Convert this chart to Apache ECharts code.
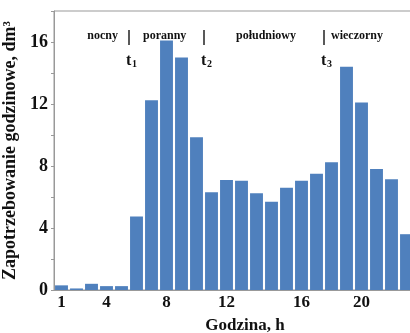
<!DOCTYPE html>
<html>
<head>
<meta charset="utf-8">
<script src="https://cdn.jsdelivr.net/npm/echarts@6/dist/echarts.min.js"></script>
<style>
  html, body { margin: 0; padding: 0; background: #fff; }
  #chart { width: 410px; height: 333px; }
</style>
</head>
<body>
<div id="chart"></div>
<script>
var hours = ['1','2','3','4','5','6','7','8','9','10','11','12','13','14','15','16','17','18','19','20','21','22','23','24'];
// labels as they sit under the bars in the source figure
var tickLabels = ['1','','','4','','','','8','','','','12','','','','','16','','','','20','','',''];
var demand = [0.3, 0.1, 0.4, 0.25, 0.25, 4.75, 12.25, 16.1, 15.0, 9.85, 6.3, 7.1, 7.05, 6.25, 5.7, 6.6, 7.05, 7.5, 8.25, 14.4, 12.1, 7.8, 7.15, 3.6];
var periods = ['nocny', 'poranny', 'południowy', 'wieczorny'];
var boundaryAfter = [5, 10, 18];   // t1, t2, t3 fall after these hours
var boundaryNames = ['1', '2', '3'];

var serif = '"Liberation Serif", "Times New Roman", serif';
var chart = echarts.init(document.getElementById('chart'));
var option;

option = {
  animation: false,
  grid: {
    left: 54,
    top: 11,
    width: 360,
    height: 279,
    outerBoundsMode: 'none',
    containLabel: false,
    show: true,
    borderColor: '#999',
    borderWidth: 1
  },
  xAxis: {
    type: 'category',
    data: hours,
    name: 'Godzina, h',
    nameLocation: 'middle',
    nameGap: 27,
    nameTextStyle: {
      fontFamily: serif, fontWeight: 'bold', fontSize: 17, color: '#111',
      padding: [0, 0, 0, 22]
    },
    axisLine: { lineStyle: { color: '#999' } },
    axisTick: { show: false },
    axisLabel: {
      interval: 0,
      margin: 4,
      fontFamily: serif, fontWeight: 'bold', fontSize: 17, color: '#111',
      formatter: function (v, i) { return tickLabels[i]; }
    }
  },
  yAxis: {
    type: 'value',
    min: 0,
    max: 18,
    interval: 2,
    name: 'Zapotrzebowanie godzinowe, dm³',
    nameLocation: 'middle',
    nameGap: 27,
    nameTextStyle: {
      fontFamily: serif, fontWeight: 'bold', fontSize: 18, color: '#111'
    },
    axisLine: { show: true, lineStyle: { color: '#999' } },
    axisTick: { show: true, length: 3, lineStyle: { color: '#999' } },
    splitLine: { show: false },
    axisLabel: {
      margin: 6,
      fontFamily: serif, fontWeight: 'bold', fontSize: 18, color: '#111',
      formatter: function (v) { return (v % 4 === 0 && v < 18) ? String(v) : ''; }
    }
  },
  series: [
    {
      type: 'bar',
      data: demand,
      barCategoryGap: '14%',
      itemStyle: { color: '#4f80bd' }
    }
  ]
};

option && chart.setOption(option);

// period annotations placed at the category boundaries
var xs = boundaryAfter.map(function (h) {
  var a = chart.convertToPixel({ xAxisIndex: 0 }, h - 1);
  var b = chart.convertToPixel({ xAxisIndex: 0 }, h);
  return (a + b) / 2;
});
var textFont = 'bold 12px ' + serif;
var els = [];
xs.forEach(function (x, i) {
  els.push({
    type: 'line',
    shape: { x1: x, y1: 30, x2: x, y2: 45 },
    style: { stroke: '#222', lineWidth: 1.5 }
  });
  els.push({
    type: 'text', x: x - 3, y: 61,
    style: { text: 't', font: 'bold 16px ' + serif, fill: '#111', align: 'left', verticalAlign: 'middle' }
  });
  els.push({
    type: 'text', x: x + 3, y: 64,
    style: { text: boundaryNames[i], font: 'bold 10px ' + serif, fill: '#111', align: 'left', verticalAlign: 'middle' }
  });
});
els.push({ type: 'text', x: xs[0] - 11, y: 36,
  style: { text: periods[0], font: textFont, fill: '#111', align: 'right', verticalAlign: 'middle' } });
els.push({ type: 'text', x: xs[0] + 14, y: 36,
  style: { text: periods[1], font: textFont, fill: '#111', align: 'left', verticalAlign: 'middle' } });
els.push({ type: 'text', x: (xs[1] + xs[2]) / 2 + 2, y: 36,
  style: { text: periods[2], font: textFont, fill: '#111', align: 'center', verticalAlign: 'middle' } });
els.push({ type: 'text', x: xs[2] + 7, y: 36,
  style: { text: periods[3], font: textFont, fill: '#111', align: 'left', verticalAlign: 'middle' } });

chart.setOption({ graphic: els });
</script>
</body>
</html>
